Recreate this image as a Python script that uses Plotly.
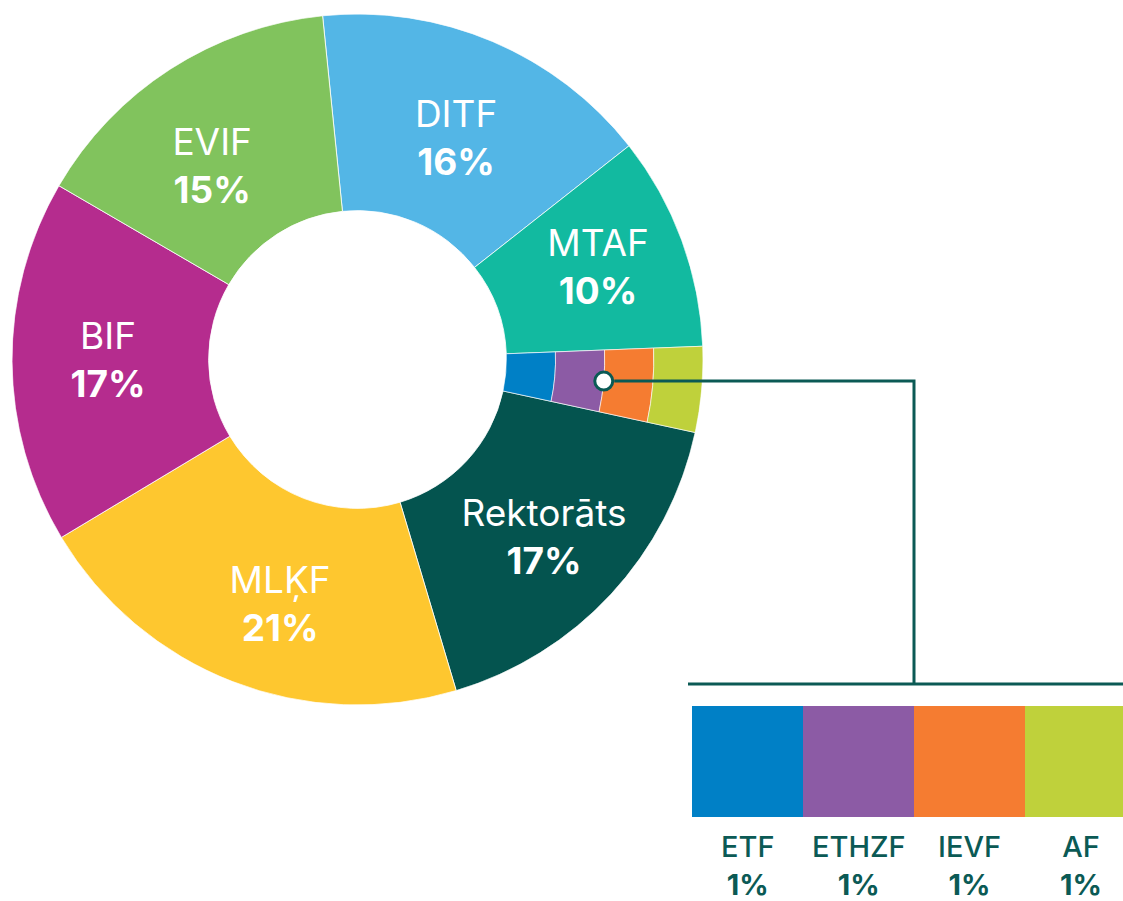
import math
import plotly.graph_objects as go

# Shares by unit, listed clockwise from the top of the ring
units = ["DITF", "MTAF", "Rektorāts", "MLĶF", "BIF", "EVIF"]
shares = [16, 10, 17, 21, 17, 15]
unit_colors = ["#53B6E6", "#12BAA0", "#04544F", "#FEC72F", "#B52C8E", "#81C35D"]

# Small units, shown together as one wedge after MTAF and split radially
small_units = ["ETF", "ETHZF", "IEVF", "AF"]
small_shares = [1, 1, 1, 1]
small_colors = ["#0080C6", "#8C5BA5", "#F57C31", "#BFD13B"]
small_after = "MTAF"

# ---- styling / geometry -------------------------------------------------
W, H = 1123, 901
FONT = "Inter"
TEAL = "#0B5A55"
START_DEG = -5.8          # clockwise angle of the first wedge edge, from top
HOLE = 0.431              # inner radius as fraction of outer radius
# label anchor radius and angular nudge for each wedge (same order as units)
LABEL_R = [0.691, 0.742, 0.753, 0.753, 0.722, 0.691]
LABEL_DTHETA = [1.4, 0.0, 1.4, -3.9, -0.6, -4.7]
POLAR_X = (12 / W, 703 / W)
POLAR_Y = (1 - 705 / H, 1 - 14 / H)
BAR_X_DOM = (692 / W, 1.0)
BAR_UNIT_PX = 111
BAR_Y_DOM = (1 - 817 / H, 1 - 706 / H)

total = sum(shares) + sum(small_shares)
deg_per = 360.0 / total

# wedge centres and widths
thetas, widths = [], []
angle = START_DEG
small_theta = small_width = None
for u, s in zip(units, shares):
    w = s * deg_per
    thetas.append(angle + w / 2)
    widths.append(w)
    angle += w
    if u == small_after:
        small_width = sum(small_shares) * deg_per
        small_theta = angle + small_width / 2
        angle += small_width

band = (1 - HOLE) / len(small_units)
small_bases = [HOLE + i * band for i in range(len(small_units))]

fig = go.Figure()

# main ring
fig.add_trace(go.Barpolar(
    r=[1 - HOLE] * len(units),
    base=[HOLE] * len(units),
    theta=thetas,
    width=widths,
    marker=dict(color=unit_colors, line=dict(color="white", width=0.8)),
    hoverinfo="skip",
))

# small units, stacked outward inside their shared wedge
fig.add_trace(go.Barpolar(
    r=[band] * len(small_units),
    base=small_bases,
    theta=[small_theta] * len(small_units),
    width=[small_width] * len(small_units),
    marker=dict(color=small_colors, line=dict(color="white", width=0.6)),
    hoverinfo="skip",
))

# wedge labels
fig.add_trace(go.Scatterpolar(
    r=LABEL_R,
    theta=[t + d for t, d in zip(thetas, LABEL_DTHETA)],
    mode="text",
    text=[f"{u}<br><b>{s}%</b>" for u, s in zip(units, shares)],
    textfont=dict(family=FONT, size=37, color="white"),
    hoverinfo="skip",
))

# callout dot on the ETHZF / IEVF border
dot_r = small_bases[2]
fig.add_trace(go.Scatterpolar(
    r=[dot_r],
    theta=[small_theta],
    mode="markers",
    marker=dict(size=18, color="white", line=dict(color=TEAL, width=3)),
    hoverinfo="skip",
))

# breakdown strip for the small units
fig.add_trace(go.Bar(
    x=small_units,
    y=small_shares,
    width=1,
    marker=dict(color=small_colors, line=dict(width=0)),
    hoverinfo="skip",
    xaxis="x", yaxis="y",
))
for u, s in zip(small_units, small_shares):
    fig.add_annotation(
        x=u, y=0, xref="x", yref="y",
        text=f"{u}<br><b>{s}%</b>",
        showarrow=False, yanchor="top", xanchor="center", yshift=-10,
        font=dict(family=FONT, size=29, color=TEAL, weight=500),
    )

# ---- callout connector ----------------------------------------------------
cx_px = (POLAR_X[0] + POLAR_X[1]) / 2 * W
cy_px = (1 - (POLAR_Y[0] + POLAR_Y[1]) / 2) * H
R_px = (POLAR_X[1] - POLAR_X[0]) * W / 2
t = math.radians(small_theta)
dot_x = cx_px + R_px * dot_r * math.sin(t)
dot_y = cy_px - R_px * dot_r * math.cos(t)

x_range = (-0.5, -0.5 + (BAR_X_DOM[1] - BAR_X_DOM[0]) * W / BAR_UNIT_PX)


def bar_x_px(v):
    return BAR_X_DOM[0] * W + (v - x_range[0]) * BAR_UNIT_PX


bar_top_px = (1 - BAR_Y_DOM[1]) * H
rule_y = bar_top_px - 22
join_x = bar_x_px(1.5)

path = (f"M {(dot_x + 10.5) / W},{1 - dot_y / H} "
        f"L {join_x / W},{1 - dot_y / H} "
        f"L {join_x / W},{1 - rule_y / H}")
fig.add_shape(type="path", path=path, xref="paper", yref="paper",
              line=dict(color=TEAL, width=3))
fig.add_shape(type="line", xref="paper", yref="paper",
              x0=(BAR_X_DOM[0] * W - 4) / W, x1=1.0,
              y0=1 - rule_y / H, y1=1 - rule_y / H,
              line=dict(color=TEAL, width=3))

fig.update_layout(
    width=W, height=H,
    margin=dict(l=0, r=0, t=0, b=0),
    paper_bgcolor="white",
    plot_bgcolor="white",
    showlegend=False,
    font=dict(family=FONT),
    polar=dict(
        domain=dict(x=list(POLAR_X), y=list(POLAR_Y)),
        bgcolor="rgba(0,0,0,0)",
        barmode="overlay",
        radialaxis=dict(range=[0, 1], visible=False, showgrid=False),
        angularaxis=dict(rotation=90, direction="clockwise", visible=False,
                         showgrid=False),
    ),
    xaxis=dict(domain=list(BAR_X_DOM), range=list(x_range), visible=False,
               fixedrange=True),
    yaxis=dict(domain=list(BAR_Y_DOM), range=[0, 1], visible=False,
               fixedrange=True),
    bargap=0,
)

fig.write_html("out.html")
